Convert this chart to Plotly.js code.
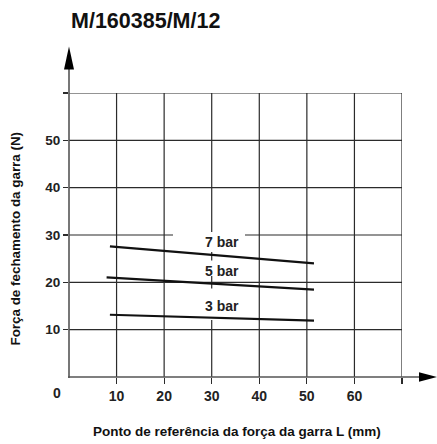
<!DOCTYPE html>
<html>
<head>
<meta charset="utf-8">
<script src="https://cdn.plot.ly/plotly-3.0.1.min.js"></script>
<style>html,body{margin:0;padding:0;background:#fff;}#chart{width:437px;height:444px;}</style>
</head>
<body>
<div id="chart"></div>
<script>
// ---- data ----
const chartTitle = 'M/160385/M/12';
const xTitle = 'Ponto de referência da força da garra L (mm)';
const yTitle = 'Força de fechamento da garra (N)';
const seriesNames = ['7 bar', '5 bar', '3 bar'];
const x7 = [8.6, 51.5];
const y7 = [27.6, 24.0];
const x5 = [7.9, 51.5];
const y5 = [21.05, 18.45];
const x3 = [8.6, 51.5];
const y3 = [13.15, 11.9];
const labelX = [32.2, 32.2, 32.2];
const labelY = [28.45, 22.45, 15.0];
const xTickVals = [10, 20, 30, 40, 50, 60, 70];
const xTickText = ['10', '20', '30', '40', '50', '60', ''];
const yTickVals = [10, 20, 30, 40, 50, 60];
const yTickText = ['10', '20', '30', '40', '50', ''];
const xRange = [0, 70];
const yRange = [0, 60];

// ---- layout geometry ----
const W = 437, H = 444;
const M = {l: 69, r: 35, t: 93, b: 67};
const PW = W - M.l - M.r, PH = H - M.t - M.b;
const px = p => (p - M.l) / PW;
const py = p => (H - M.b - p) / PH;
const FONT = 'Liberation Sans, Arial, sans-serif';
const GRID = '#2b2b2b';

const lineStyle = {color: '#111', width: 2.2};
const traces = [[x7, y7], [x5, y5], [x3, y3]].map((d, i) => ({
  x: d[0], y: d[1], type: 'scatter', mode: 'lines', name: seriesNames[i],
  line: lineStyle, hoverinfo: 'skip'
}));

const annotations = seriesNames.map((s, i) => ({
  x: labelX[i], y: labelY[i], xref: 'x', yref: 'y', text: '<b>' + s + '</b>',
  showarrow: false, xanchor: 'center', yanchor: 'middle',
  font: {family: FONT, size: 14, color: '#222'}
}));
annotations.push({
  x: px(57), y: py(393), xref: 'paper', yref: 'paper', text: '<b>0</b>',
  showarrow: false, xanchor: 'center', yanchor: 'middle',
  font: {family: FONT, size: 14, color: '#222'}
});
annotations.push({
  x: px(237), y: py(431), xref: 'paper', yref: 'paper', text: '<b>' + xTitle + '</b>',
  showarrow: false, xanchor: 'center', yanchor: 'middle',
  font: {family: FONT, size: 13.5, color: '#111'}
});
annotations.push({
  x: px(15), y: py(238.5), xref: 'paper', yref: 'paper', text: '<b>' + yTitle + '</b>',
  showarrow: false, xanchor: 'center', yanchor: 'middle', textangle: -90,
  font: {family: FONT, size: 13.4, color: '#111'}
});

const AX = '#555';
const shapes = [];
// grid lines at the tick values (below traces)
xTickVals.forEach(v => shapes.push({type: 'line', xref: 'x', yref: 'paper', layer: 'below',
  x0: v, x1: v, y0: 0, y1: 1, line: {color: GRID, width: 1.2}}));
yTickVals.forEach(v => shapes.push({type: 'line', xref: 'paper', yref: 'y', layer: 'below',
  x0: 0, x1: 1, y0: v, y1: v, line: {color: GRID, width: 1.2}}));
const boxPx = [[173, 245, 232, 252], [173, 245, 260.5, 276], [173, 245, 288.5, 320]];
boxPx.forEach(b => shapes.push({
  type: 'rect', xref: 'paper', yref: 'paper', layer: 'below',
  x0: px(b[0]), x1: px(b[1]), y0: py(b[3]), y1: py(b[2]),
  fillcolor: '#fff', line: {width: 0}
}));
shapes.push(
  {type: 'line', xref: 'paper', yref: 'paper', x0: 0, x1: 0, y0: py(378), y1: py(69),
   line: {color: AX, width: 1.6}, layer: 'above'},
  {type: 'line', xref: 'paper', yref: 'paper', x0: px(68), x1: px(420), y0: 0, y1: 0,
   line: {color: AX, width: 1.6}, layer: 'above'},
  {type: 'path', xref: 'paper', yref: 'paper', layer: 'above',
   path: `M ${px(69)},${py(46.5)} L ${px(64)},${py(69.5)} L ${px(74)},${py(69.5)} Z`,
   fillcolor: '#000', line: {width: 0}},
  {type: 'path', xref: 'paper', yref: 'paper', layer: 'above',
   path: `M ${px(437)},${py(377)} L ${px(419)},${py(372.3)} L ${px(419)},${py(381.7)} Z`,
   fillcolor: '#000', line: {width: 0}}
);

const layout = {
  width: W, height: H, margin: M, paper_bgcolor: '#fff', plot_bgcolor: '#fff',
  showlegend: false, hovermode: false,
  title: {text: '<b>' + chartTitle + '</b>', xref: 'paper', x: px(71), xanchor: 'left',
          yref: 'container', y: 1 - 20 / H, yanchor: 'middle',
          font: {family: FONT, size: 21.5, color: '#111'}},
  xaxis: {range: xRange, tickmode: 'array', tickvals: xTickVals, ticktext: xTickText,
          showgrid: false, zeroline: false, showline: false,
          ticks: 'outside', ticklen: 6, tickwidth: 1.2, tickcolor: GRID,
          tickfont: {family: FONT, size: 14, color: '#222', weight: 'bold'}, fixedrange: true},
  yaxis: {range: yRange, tickmode: 'array', tickvals: yTickVals, ticktext: yTickText,
          showgrid: false, zeroline: false, showline: false,
          ticks: 'outside', ticklen: 5, tickwidth: 1.2, tickcolor: GRID,
          tickfont: {family: FONT, size: 13.5, color: '#222', weight: 'bold'}, fixedrange: true},
  annotations: annotations, shapes: shapes
};

Plotly.newPlot('chart', traces, layout, {displayModeBar: false, staticPlot: true});
</script>
</body>
</html>
